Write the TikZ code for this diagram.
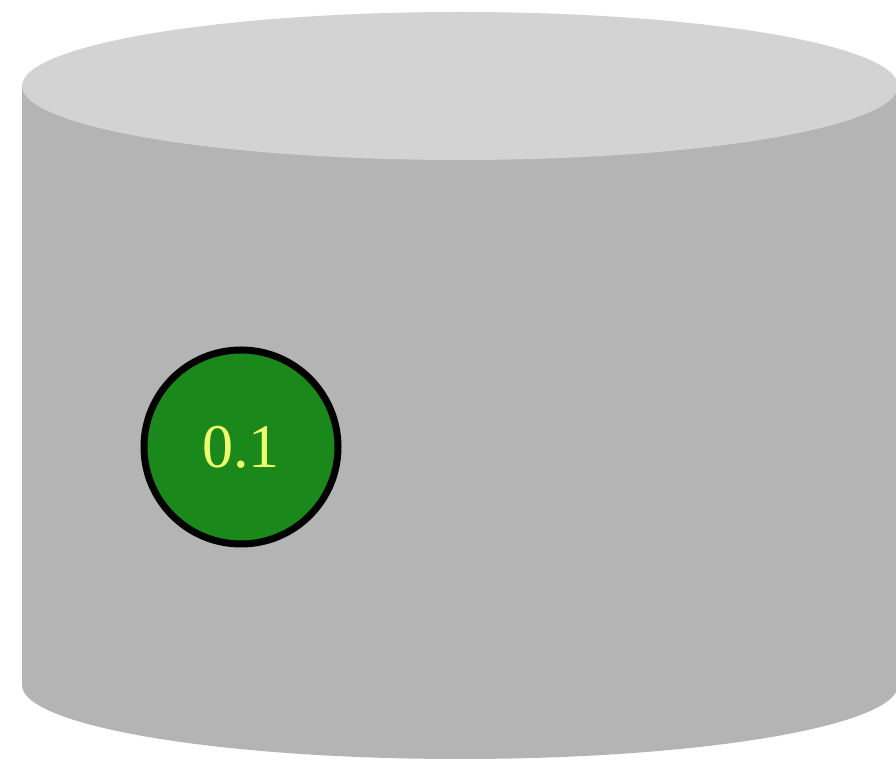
\documentclass[tikz,border=0pt]{standalone}
\usepackage{fontspec}
\setmainfont{Liberation Serif}
\definecolor{cyltop}{RGB}{211,211,211}
\definecolor{cylbody}{RGB}{180,180,180}
\definecolor{ballgreen}{RGB}{27,136,27}
\definecolor{labelyellow}{RGB}{238,255,110}
\tikzset{
  ball/.style={circle, draw=black, line width=7pt, fill=ballgreen, minimum size=194pt, inner sep=0pt,
    text=labelyellow, font=\fontsize{62}{66}\selectfont}
}
\begin{document}
\begin{tikzpicture}[x=1pt,y=1pt]
\useasboundingbox (0,0) rectangle (896,767);
\begin{scope}
\clip (0,0) rectangle (896,767);
\fill[cylbody] (22,681) -- (22,82) arc[start angle=180,end angle=360,x radius=438,y radius=74] -- (898,681) -- cycle;
\fill[cyltop] (460,681) ellipse[x radius=438,y radius=74];
\end{scope}
\node[ball] (b) at (241,320) {0.1};
\end{tikzpicture}
\end{document}
